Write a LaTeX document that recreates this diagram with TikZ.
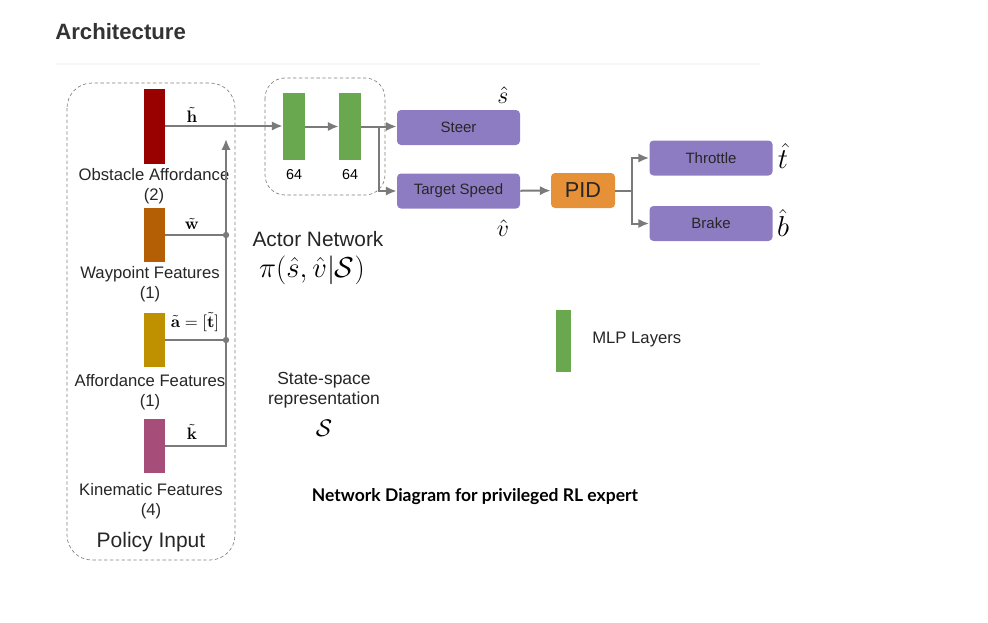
\documentclass[tikz,border=0pt]{standalone}
\usepackage{amsmath,amssymb}
\usepackage[no-math]{fontspec}
\setmainfont{Liberation Sans}
\newfontfamily\capfont{Lato}
\usepackage{tikz}
\usetikzlibrary{positioning}
\usetikzlibrary{shapes.geometric, arrows, arrows.meta}

\definecolor{obstred}{HTML}{990000}
\definecolor{waybrown}{HTML}{B45F06}
\definecolor{affgold}{HTML}{BF9000}
\definecolor{kinpink}{HTML}{A64D79}
\definecolor{mlpgreen}{HTML}{6AA84F}
\definecolor{outpurple}{HTML}{8E7CC3}
\definecolor{pidorange}{HTML}{E69138}
\definecolor{wiregray}{HTML}{7A7A7A}
\definecolor{titlegray}{HTML}{333333}

\tikzstyle{arrow} = [line width=1.2pt,-{Latex[length=6.5pt,width=5.6pt]},draw=wiregray]
\tikzstyle{wire} = [line width=1.2pt,draw=wiregray]
\tikzstyle{feat} = [inner sep=0pt,minimum width=12.6pt,minimum height=32.4pt]
\tikzstyle{mlp} = [fill=mlpgreen,inner sep=0pt,minimum width=13.2pt,minimum height=40.2pt]
\tikzstyle{outbox} = [fill=outpurple,rounded corners=2.4pt,minimum width=73.8pt,minimum height=21pt,text=black!85,font=\fontsize{9}{11}\selectfont]
\tikzstyle{group} = [draw=gray,thin,dash pattern=on 2pt off 1.5pt]
\tikzstyle{featlabel} = [align=center,inner sep=0pt,text=black!85,font=\fontsize{10}{12.2}\selectfont]
\tikzstyle{mathlabel} = [inner sep=0pt]

\begin{document}
\begin{tikzpicture}[x=0.6pt,y=-0.6pt]
	\useasboundingbox (0,0) rectangle (988,622);
	
	%Header
	\node [anchor=west,inner sep=0pt,text=titlegray,font=\fontsize{13.3}{16}\selectfont\bfseries] (title) at (55,32) {Architecture};
	\draw [gray!6,line width=1.2pt] (55,64) -- (760,64);
	
	%Groups
	\draw [group,rounded corners=15pt] (67,83) rectangle (235,560);
	\draw [group,rounded corners=12pt] (265,78) rectangle (385,195);
	
	%Policy input
	\node [feat,fill=obstred,minimum height=45pt] (obst) at (154.5,126) {};
	\node [feat,fill=waybrown] (way) at (154.5,235) {};
	\node [feat,fill=affgold] (aff) at (154.5,340) {};
	\node [feat,fill=kinpink] (kin) at (154.5,446) {};
	
	\node [featlabel] (obstlabel) at (154,186) {Obstacle Affordance\\(2)};
	\node [featlabel] (waylabel) at (150,284) {Waypoint Features\\(1)};
	\node [featlabel] (afflabel) at (150,392) {Affordance Features\\(1)};
	\node [featlabel] (kinlabel) at (151,501) {Kinematic Features\\(4)};
	\node [featlabel,font=\fontsize{12.6}{15}\selectfont] (policy) at (151,542) {Policy Input};
	
	\node [mathlabel] (hlab) at (192,115) {$\tilde{\mathbf{h}}$};
	\node [mathlabel] (wlab) at (192,224) {$\tilde{\mathbf{w}}$};
	\node [mathlabel] (alab) at (195,322) {$\tilde{\mathbf{a}}=[\tilde{\mathbf{t}}]$};
	\node [mathlabel] (klab) at (192,432) {$\tilde{\mathbf{k}}$};
	
	%Actor network
	\node [mlp] (l1) at (294,126.5) {};
	\node [mlp] (l2) at (350,126.5) {};
	\node [font=\fontsize{8.6}{10}\selectfont] (n1) at (294,175) {64};
	\node [font=\fontsize{8.6}{10}\selectfont] (n2) at (350,175) {64};
	
	\node [featlabel,font=\fontsize{12.5}{15}\selectfont] (actor) at (318,239) {Actor Network};
	\node [mathlabel,font=\fontsize{16}{19}\selectfont] (policyeq) at (312,270) {$\pi(\hat{s},\hat{v}|\mathcal{S})$};
	
	\node [featlabel,font=\fontsize{10.5}{12.3}\selectfont] (state) at (324,390) {State-space\\representation};
	\node [mathlabel,font=\fontsize{15}{18}\selectfont] (statesym) at (324,428) {$\mathcal{S}$};
	
	%Outputs
	\node [outbox] (steer) at (458.5,127.5) {Steer};
	\node [outbox] (speed) at (458.5,191) {Target Speed};
	\node [outbox,fill=pidorange,minimum width=38.4pt,font=\fontsize{13}{15}\selectfont] (pid) at (583,190.5) {PID};
	\node [outbox] (throttle) at (711,158) {Throttle};
	\node [outbox] (brake) at (711,223.5) {Brake};
	
	\node [mathlabel,font=\fontsize{13.5}{16}\selectfont] (shat) at (503,95) {$\hat{s}$};
	\node [mathlabel,font=\fontsize{13.5}{16}\selectfont] (vhat) at (503,228) {$\hat{v}$};
	\node [mathlabel,font=\fontsize{17}{20}\selectfont] (that) at (783,156) {$\hat{t}$};
	\node [mathlabel,font=\fontsize{17}{20}\selectfont] (bhat) at (783,223) {$\hat{b}$};
	
	%Legend
	\node [mlp,minimum width=9pt,minimum height=37.2pt] (legend) at (563.5,341) {};
	\node [featlabel,anchor=west] (legendlabel) at (592,339) {MLP Layers};
	
	\node [inner sep=0pt,text=black,font=\capfont\fontsize{10.5}{12}\selectfont\bfseries] (caption) at (475,497) {Network Diagram for privileged RL expert};
	
	%Lines
	\coordinate (busTop) at (226,139);
	\coordinate (split) at (379,126.5);
	\coordinate (pidsplit) at (632,190.5);
	
	\draw[arrow] (obst.east) -- (obst.east -| l1.west);
	\draw[arrow] (kin.east) -| (busTop);
	\draw[wire] (way.east) -- (way.east -| busTop);
	\draw[wire] (aff.east) -- (aff.east -| busTop);
	\fill[wiregray] (way.east -| busTop) circle [radius=1.9pt];
	\fill[wiregray] (aff.east -| busTop) circle [radius=1.9pt];
	
	\draw[arrow] (l1) -- (l2);
	\draw[wire] (l2.east) -- (split);
	\draw[arrow] (split) -- (split -| steer.west);
	\draw[arrow] (split) |- (speed.west);
	
	\draw[arrow] (speed) -- (pid);
	\draw[wire] (pid.east) -- (pidsplit);
	\draw[arrow] (pidsplit) |- (throttle.west);
	\draw[arrow] (pidsplit) |- (brake.west);
\end{tikzpicture}
\end{document}
